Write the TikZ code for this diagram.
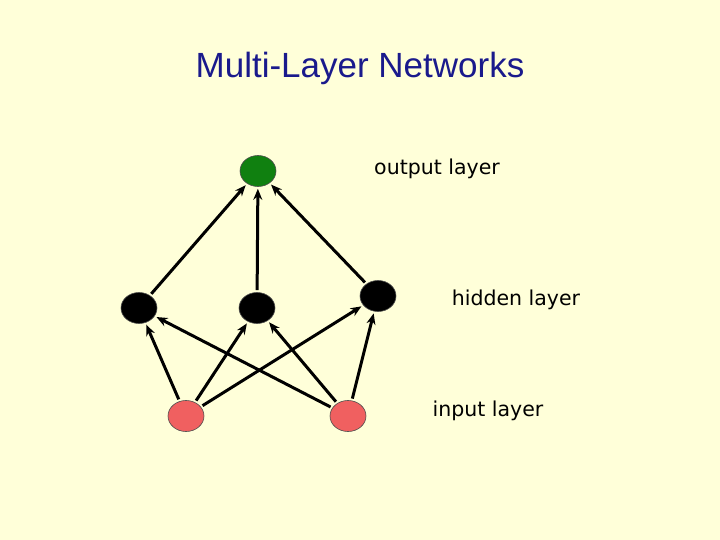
\documentclass[tikz,border=0pt]{standalone}
\usepackage{fontspec}
\setmainfont{DejaVu Sans}
\newfontfamily\titlefont{Liberation Sans}
\usetikzlibrary{arrows.meta,shapes.geometric}
\definecolor{bg}{HTML}{FFFFD9}
\definecolor{ttl}{HTML}{1A1A8C}
\definecolor{grn}{HTML}{108010}
\definecolor{rd}{HTML}{F06060}
\begin{document}
\begin{tikzpicture}[x=1pt,y=-1pt,
  neuron/.style={ellipse,draw=gray!60!black,line width=0.6pt,minimum width=36pt,minimum height=31pt,inner sep=0pt},
  conn/.style={-{Stealth[length=11pt,width=9pt]},line width=3pt,shorten <=2pt,shorten >=2pt},
  lbl/.style={font=\fontsize{20.5}{24}\selectfont}]
\fill[bg] (0,0) rectangle (720,540);
\useasboundingbox (0,0) rectangle (720,540);
\node[font=\titlefont\fontsize{35}{40}\selectfont,text=ttl] (title) at (360,68) {Multi-Layer Networks};
\node[neuron,fill=grn] (o) at (258,171) {};
\node[neuron,fill=black] (h1) at (139,308) {};
\node[neuron,fill=black] (h2) at (257,308) {};
\node[neuron,fill=black] (h3) at (378,296) {};
\node[neuron,fill=rd] (i1) at (186,416) {};
\node[neuron,fill=rd] (i2) at (348,416) {};
\foreach \a/\b in {h1/o,h2/o,h3/o,i1/h1,i1/h2,i1/h3,i2/h1,i2/h2,i2/h3}
  \draw[conn] (\a) -- (\b);
\node[lbl] (ol) at (437,169) {output layer};
\node[lbl] (hl) at (516,300) {hidden layer};
\node[lbl] (il) at (488,411) {input layer};
\end{tikzpicture}
\end{document}
